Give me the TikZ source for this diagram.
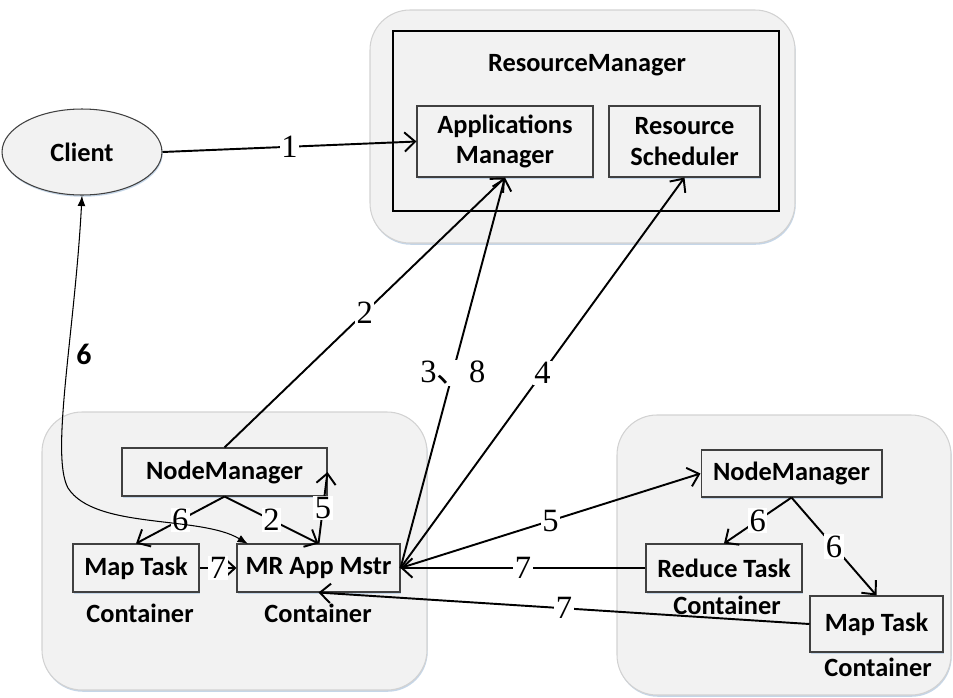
\documentclass[tikz,border=0pt]{standalone}
\usepackage{fontspec}
\setmainfont{Carlito}
\newfontfamily\numfont{Liberation Serif}
\newfontfamily\cjkfont{Noto Sans CJK SC}
\usetikzlibrary{arrows.meta,shapes.geometric,shadows}
\definecolor{BoxClr}{RGB}{242,242,242}
\definecolor{EdgeClr}{RGB}{64,64,64}
\definecolor{FrameClr}{RGB}{210,210,210}
\definecolor{ShadowClr}{RGB}{197,214,232}

\begin{document}
\begin{tikzpicture}[x=0.02cm,y=-0.02cm,
  box/.style={draw=EdgeClr,line width=0.6pt,fill=BoxClr,align=center,inner sep=0pt,
    font=\fontsize{15}{17.5}\selectfont\bfseries,
    drop shadow={shadow xshift=0.4pt,shadow yshift=-1pt,fill=ShadowClr,opacity=1}},
  frame/.style={draw=FrameClr,line width=0.6pt,fill=BoxClr,rounded corners=0.8cm,
    drop shadow={shadow xshift=0.4pt,shadow yshift=-1pt,fill=ShadowClr,opacity=1}},
  lbl/.style={font=\fontsize{15}{17.5}\selectfont\bfseries,inner sep=0pt},
  arr/.style={line width=1.1pt,-{Straight Barb[length=6pt,width=11pt,line width=1.1pt]}},
  curv/.style={line width=0.6pt,{Latex[length=6pt,width=4.5pt]}-{Latex[length=6pt,width=4.5pt]}},
  num/.style={fill=white,inner sep=0.8pt,font=\numfont\fontsize{18.5}{18.5}\selectfont}]
\useasboundingbox (0,0) rectangle (953,697);

% containers
\draw[frame] (370,10) rectangle (795,243);
\draw[draw=black,line width=0.6pt] (393,31) rectangle (779,211);
\draw[frame] (42,412) rectangle (427,690);
\draw[frame] (617,415) rectangle (951,695);

\node[lbl] (rmtitle) at (587,65) {ResourceManager};
\node[box,minimum width=3.52cm,minimum height=1.42cm] (am) at (505,141.5) {Applications\\Manager};
\node[box,minimum width=3.02cm,minimum height=1.42cm] (rs) at (684.5,141.5) {Resource\\Scheduler};

\node[box,ellipse,minimum width=3.2cm,minimum height=1.72cm] (client) at (82,152) {Client};

\node[box,minimum width=4.1cm,minimum height=0.96cm] (nmL) at (224.5,472) {NodeManager};
\node[box,minimum width=2.52cm,minimum height=0.96cm] (mapL) at (136,568) {Map Task};
\node[box,minimum width=3.26cm,minimum height=0.96cm] (mr) at (318.5,568) {MR App Mstr};
\node[lbl] (conA) at (140,613) {Container};
\node[lbl] (conB) at (318,613) {Container};

\node[box,minimum width=3.62cm,minimum height=0.94cm] (nmR) at (791.5,473.5) {NodeManager};
\node[box,minimum width=3.12cm,minimum height=0.96cm] (reduce) at (724,568) {Reduce Task};
\node[box,minimum width=2.66cm,minimum height=1.12cm] (mapR) at (876.5,624) {Map Task};
\node[lbl] (conC) at (727,605) {Container};
\node[lbl] (conD) at (878,667) {Container};

\coordinate (mrin) at (248,544);

\draw[arr] (client.east) -- node[num]{1} (am.west);
\draw[arr] (nmL.north) -- node[num]{2} (am.south);
\draw[arr] (mr.east) -- node[num]{3{\cjkfont 、}8} (am.south);
\draw[arr] (mr.east) -- node[num]{4} (rs.south);
\draw[arr] (mr.east) -- node[num]{5} (nmR.west);
\draw[arr] (reduce.west) -- node[num]{7} (mr.east);
\draw[arr] (mapR.west) -- node[num]{7} (mr.south);

\draw[arr] (nmL.south) -- node[num]{6} (mapL.north);
\draw[arr] (nmL.south) -- node[num]{2} (mr.north);
\draw[arr] (mr.north) -- node[num]{5} (nmL.east);
\draw[arr] (mapL.east) -- node[num]{7} (mr.west);

\draw[arr] (nmR.south) -- node[num]{6} (reduce.north);
\draw[arr] (nmR.south) -- node[num]{6} (mapR.north);

\draw[curv] (client.south) .. controls (75,330) and (50,455) .. (68,488)
  .. controls (95,530) and (200,515) .. (mrin);
\node[lbl,font=\fontsize{17}{17}\selectfont\bfseries] (six) at (84,354) {6};
\end{tikzpicture}
\end{document}
